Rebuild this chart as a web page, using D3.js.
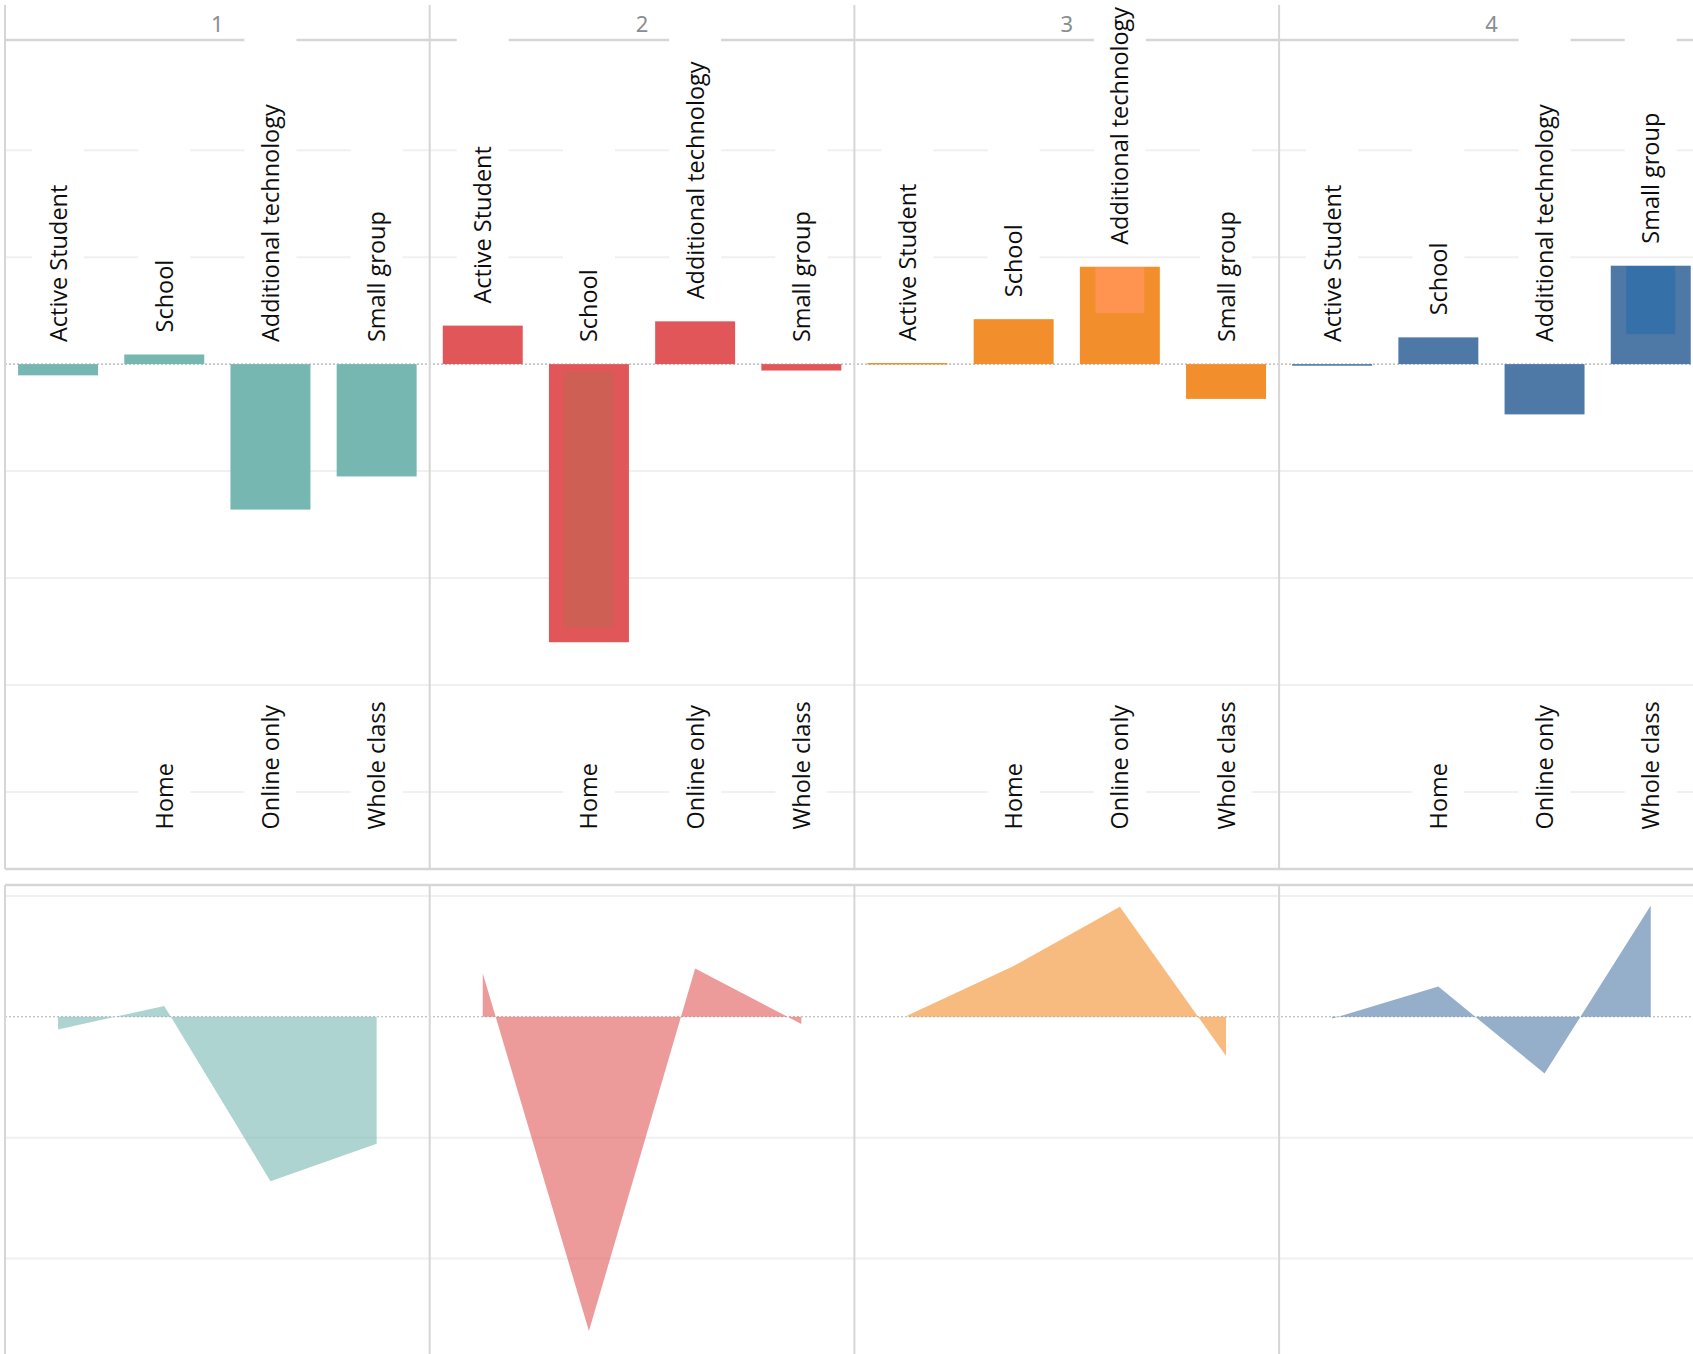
<!DOCTYPE html>
<html>
<head>
<meta charset="utf-8">
<script src="https://cdn.jsdelivr.net/npm/d3@7"></script>
<style>
  html, body { margin: 0; padding: 0; background: #fff; }
  svg { display: block; }
</style>
</head>
<body>
<svg id="chart" width="1693" height="1354"></svg>
<script>
// ---- data ----
const panels = ["1", "2", "3", "4"];
const categories = ["Active Student", "School", "Additional technology", "Small group"];
const opposites = ["", "Home", "Online only", "Whole class"];

const series1 = [-1.05, 0.9, -13.6, -10.5];
const series2 = [3.6, -26.0, 4.0, -0.6];
const series3 = [0.1, 4.2, 9.1, -3.25];
const series4 = [-0.15, 2.5, -4.7, 9.2];
const seriesValues = [series1, series2, series3, series4];

// inner highlight bars (value ranges)
const overlayPanel = ["2", "3", "4"];
const overlayCategory = ["School", "Additional technology", "Small group"];
const overlayFrom = [-0.75, 4.77, 2.8];
const overlayTo = [-24.6, 9.07, 9.16];

const topTicks = [-40, -30, -20, -10, 10, 20];
const bottomTicks = [10, -10, -20];

// ---- styles ----
const colors = ["#76b7b2", "#e15759", "#f28e2b", "#4e79a7"];
const overlayColors = ["#cd5f55", "#ff9350", "#3570a8"];
const borderColor = "#d6d6d6";
const gridColor = "#f0f0f0";
const labelFont = "'Open Sans', sans-serif";
const labelSize = 23.5;

// ---- layout ----
const W = 1693, H = 1354;
const left = 5, colW = 424.7;
const svg = d3.select("#chart");

const colScale = d3.scaleBand().domain(panels).range([left, left + colW * 4]).padding(0);
const slot = d3.scaleBand().domain(categories).range([0, colW]).paddingInner(0.247).paddingOuter(0.123);
const yTop = d3.scaleLinear().domain([-47.2, 30.3]).range([869, 40]);
const yBot = d3.scaleLinear().domain([-27.9, 10.9]).range([H, 885]);

const cx = (p, c) => colScale(p) + slot(c) + slot.bandwidth() / 2;

// gridlines
const gGrid = svg.append("g");
gGrid.selectAll("line.t").data(topTicks).join("line")
  .attr("x1", left).attr("x2", W)
  .attr("y1", d => yTop(d)).attr("y2", d => yTop(d))
  .attr("stroke", gridColor).attr("stroke-width", 2);
gGrid.selectAll("line.b").data(bottomTicks).join("line")
  .attr("x1", left).attr("x2", W)
  .attr("y1", d => yBot(d)).attr("y2", d => yBot(d))
  .attr("stroke", gridColor).attr("stroke-width", 2);

// header separator
svg.append("line")
  .attr("x1", left).attr("x2", W)
  .attr("y1", yTop(30.3)).attr("y2", yTop(30.3))
  .attr("stroke", borderColor).attr("stroke-width", 2.5);

// layers
const gBoxes = svg.append("g");
const gZero = svg.append("g");
const gMarks = svg.append("g");
const gText = svg.append("g");
const gFrame = svg.append("g");

// zero lines
[yTop(0), yBot(0)].forEach(y => {
  gZero.append("line")
    .attr("x1", left).attr("x2", W).attr("y1", y).attr("y2", y)
    .attr("stroke", "#b0b0b0").attr("stroke-width", 1.2)
    .attr("stroke-dasharray", "2,2");
});

// panel headers
gText.selectAll("text.hdr").data(panels).join("text")
  .attr("x", d => colScale(d) + colW / 2)
  .attr("y", 32)
  .attr("text-anchor", "middle")
  .attr("font-family", "'Noto Sans', sans-serif")
  .attr("font-size", 22)
  .attr("fill", "#8a8d92")
  .text(d => d);

panels.forEach((p, pi) => {
  const vals = seriesValues[pi];
  const rows = categories.map((c, i) => ({ c, v: vals[i], opp: opposites[i] }));

  // bars
  gMarks.selectAll(null).data(rows).join("rect")
    .attr("x", d => colScale(p) + slot(d.c))
    .attr("width", slot.bandwidth())
    .attr("y", d => yTop(Math.max(d.v, 0)))
    .attr("height", d => Math.max(1.5, Math.abs(yTop(d.v) - yTop(0))))
    .attr("fill", colors[pi]);

  // area in the lower panel
  const area = d3.area()
    .x(d => cx(p, d.c))
    .y0(yBot(0))
    .y1(d => yBot(d.v))
    .curve(d3.curveLinear);
  gMarks.append("path")
    .datum(rows)
    .attr("d", area)
    .attr("fill", colors[pi])
    .attr("fill-opacity", 0.6);

  // category labels above the bars, opposite labels near the bottom
  rows.forEach(d => {
    const endY = Math.min(yTop(d.v), yTop(0)) - 22;
    const t = gText.append("text")
      .attr("transform", `translate(${cx(p, d.c)},${endY}) rotate(-90)`)
      .attr("dy", "0.36em")
      .attr("text-anchor", "start")
      .attr("font-family", labelFont)
      .attr("font-size", labelSize)
      .attr("fill", "#0d0d0d")
      .text(d.c);
    const len = t.node().getComputedTextLength();
    const top = Math.max(36, endY - len - 130);
    gBoxes.append("rect")
      .attr("x", cx(p, d.c) - 26).attr("width", 52)
      .attr("y", top).attr("height", endY + 6 - top)
      .attr("fill", "#fff");

    if (d.opp) {
      const bEnd = yTop(-43.5);
      const b = gText.append("text")
        .attr("transform", `translate(${cx(p, d.c)},${bEnd}) rotate(-90)`)
        .attr("dy", "0.36em")
        .attr("text-anchor", "start")
        .attr("font-family", labelFont)
        .attr("font-size", labelSize)
        .attr("fill", "#0d0d0d")
        .text(d.opp);
      const bl = b.node().getComputedTextLength();
      gBoxes.append("rect")
        .attr("x", cx(p, d.c) - 26).attr("width", 52)
        .attr("y", bEnd - bl - 6).attr("height", bl + 14)
        .attr("fill", "#fff");
    }
  });
});

// inner highlight bars
overlayPanel.forEach((p, i) => {
  const c = overlayCategory[i];
  const y1 = yTop(Math.max(overlayFrom[i], overlayTo[i]));
  const y2 = yTop(Math.min(overlayFrom[i], overlayTo[i]));
  gMarks.append("rect")
    .attr("x", cx(p, c) - 24.5).attr("width", 49)
    .attr("y", y1).attr("height", y2 - y1)
    .attr("fill", overlayColors[i]);
});

// frame: column dividers and panel borders
const bounds = panels.map(p => colScale(p));
gFrame.selectAll("line.vt").data(bounds).join("line")
  .attr("x1", d => d).attr("x2", d => d)
  .attr("y1", 5).attr("y2", 869)
  .attr("stroke", borderColor).attr("stroke-width", 2);
gFrame.selectAll("line.vb").data(bounds).join("line")
  .attr("x1", d => d).attr("x2", d => d)
  .attr("y1", 885).attr("y2", H)
  .attr("stroke", borderColor).attr("stroke-width", 2);
gFrame.append("line")
  .attr("x1", left).attr("x2", W).attr("y1", 869).attr("y2", 869)
  .attr("stroke", borderColor).attr("stroke-width", 2.5);
gFrame.append("line")
  .attr("x1", left).attr("x2", W).attr("y1", 885).attr("y2", 885)
  .attr("stroke", borderColor).attr("stroke-width", 2.5);
</script>
</body>
</html>
